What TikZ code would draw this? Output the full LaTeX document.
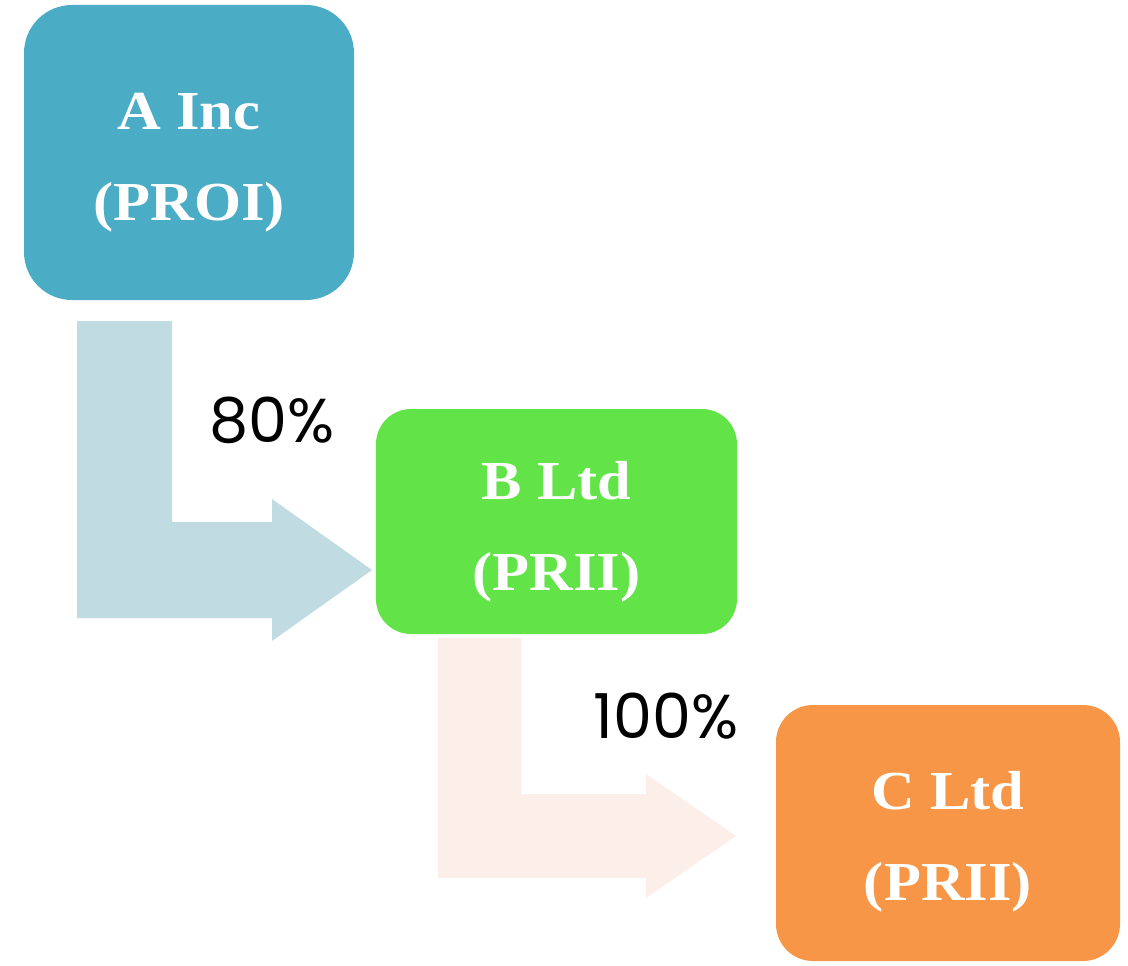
\documentclass[tikz,border=0pt]{standalone}
\usepackage{fontspec}
\newfontfamily\boxfont{Liberation Serif}[FakeStretch=1.1]
\newfontfamily\pctfont{Poppins}
\definecolor{entA}{HTML}{4BACC6}
\definecolor{entB}{HTML}{62E348}
\definecolor{entC}{HTML}{F79646}
\definecolor{linkA}{HTML}{C1DBE3}
\definecolor{linkB}{HTML}{FCEEE9}
\tikzset{
  entity/.style={inner sep=0pt},
  entitytext/.style={inner sep=0pt, align=center, text=white,
    font=\boxfont\bfseries\fontsize{55}{91}\selectfont},
  pct/.style={inner sep=0pt, font=\pctfont\fontsize{62}{62}\selectfont}
}
\begin{document}
\begin{tikzpicture}[x=1pt,y=-1pt]
  \useasboundingbox (0,0) rectangle (1128,966);
  % ownership arrows
  \fill[linkA] (77,321) -- (172,321) -- (172,522) -- (272,522) -- (272,499)
    -- (372,570) -- (272,641) -- (272,618) -- (77,618) -- cycle;
  \fill[linkB] (438,638) -- (521,638) -- (521,794) -- (646,794) -- (646,774)
    -- (736,836) -- (646,898) -- (646,878) -- (438,878) -- cycle;
  % entities
  \node[entity, fill=entA, rounded corners=48pt, minimum width=330pt,
    minimum height=295pt] (a) at (189,152.5) {};
  \node[entity, fill=entB, rounded corners=35pt, minimum width=361pt,
    minimum height=225pt] (b) at (556.5,521.5) {};
  \node[entity, fill=entC, rounded corners=37pt, minimum width=344pt,
    minimum height=256pt] (c) at (948,833) {};
  \node[entitytext] (at) at ([yshift=-10pt]a.center) {A Inc\\(PROI)};
  \node[entitytext] (bt) at ([yshift=-10pt]b.center) {B Ltd\\(PRII)};
  \node[entitytext] (ct) at ([yshift=-9pt]c.center) {C Ltd\\(PRII)};
  % holding percentages
  \node[pct] (p1) at (272,420) {80\%};
  \node[pct] (p2) at (666,716) {100\%};
\end{tikzpicture}
\end{document}
